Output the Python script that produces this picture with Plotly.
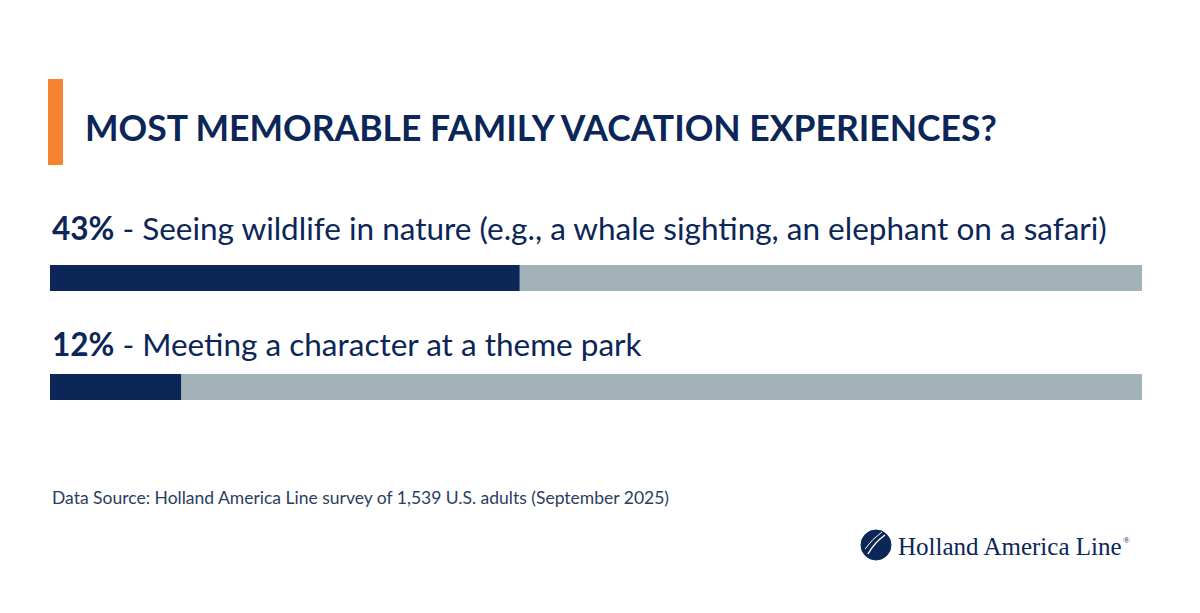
import plotly.graph_objects as go

# ---- data ----
categories = ["Seeing wildlife in nature (e.g., a whale sighting, an elephant on a safari)",
              "Meeting a character at a theme park"]
percent = [43, 12]
total = [100, 100]
title_text = "MOST MEMORABLE FAMILY VACATION EXPERIENCES?"
source_text = "Data Source: Holland America Line survey of 1,539 U.S. adults (September 2025)"
brand_text = "Holland America Line"

NAVY = "#0b2657"
GREY = "#a3b1b8"
ORANGE = "#f6832f"
W, H = 1200, 613

fig = go.Figure()
fig.add_trace(go.Bar(y=categories, x=total, orientation="h", marker=dict(color=GREY, line=dict(width=0)),
                     width=0.24, hoverinfo="skip", showlegend=False))
fig.add_trace(go.Bar(y=categories, x=percent, orientation="h", marker=dict(color=NAVY, line=dict(width=0)),
                     width=0.24, showlegend=False))

# y axis: category 0 at pixel 278, category 1 at pixel 387 (109 px per unit)
top_px, bot_px = 278 - 54.5, 387 + 54.5
fig.update_layout(
    width=W, height=H, barmode="overlay",
    margin=dict(l=0, r=0, t=0, b=0),
    paper_bgcolor="white", plot_bgcolor="white",
    xaxis=dict(domain=[50 / W, 1142 / W], range=[0, 100], visible=False, fixedrange=True),
    yaxis=dict(domain=[1 - bot_px / H, 1 - top_px / H], range=[1.5, -0.5], visible=False,
               categoryorder="array", categoryarray=categories, fixedrange=True),
    font=dict(family="Lato", color=NAVY),
)

label_shift = [50, 43]
for cat, p, s in zip(categories, percent, label_shift):
    fig.add_annotation(x=0, y=cat, xref="x", yref="y", xanchor="left", yanchor="middle",
                       yshift=s, xshift=0, showarrow=False,
                       text=f"<b>{p}%</b> - {cat}",
                       font=dict(family="Lato", size=31.5, color=NAVY))

# orange accent bar
fig.add_shape(type="rect", xref="paper", yref="paper",
              x0=48 / W, x1=63 / W, y0=1 - 165 / H, y1=1 - 79 / H,
              fillcolor=ORANGE, line=dict(width=0))
# title
fig.add_annotation(x=83 / W, y=1 - 128 / H, xref="paper", yref="paper", xanchor="left", yanchor="middle",
                   showarrow=False, text=f"<b>{title_text}</b>",
                   font=dict(family="Lato", size=35.5, color=NAVY))
# source
fig.add_annotation(x=50 / W, y=1 - 497 / H, xref="paper", yref="paper", xanchor="left", yanchor="middle",
                   showarrow=False, text=source_text,
                   font=dict(family="Lato", size=17.5, color="#2c3d60"))
# logo emblem
cx, cy, r = 876, 545, 15
fig.add_shape(type="circle", xref="paper", yref="paper",
              x0=(cx - r) / W, x1=(cx + r) / W, y0=1 - (cy + r) / H, y1=1 - (cy - r) / H,
              fillcolor=NAVY, line=dict(color=NAVY, width=1))
fig.add_shape(type="path", xref="paper", yref="paper",
              path=f"M {(cx-8)/W},{1-(cy+9)/H} Q {(cx-2)/W},{1-(cy-2)/H} {(cx+9)/W},{1-(cy-10)/H}",
              line=dict(color="white", width=1.5))
fig.add_shape(type="path", xref="paper", yref="paper",
              path=f"M {(cx-11)/W},{1-(cy+4)/H} Q {(cx-4)/W},{1-(cy-6)/H} {(cx+6)/W},{1-(cy-13)/H}",
              line=dict(color="white", width=1))
fig.add_annotation(x=896 / W, y=1 - 546 / H, xref="paper", yref="paper", xanchor="left", yanchor="middle",
                   showarrow=False, text=brand_text,
                   font=dict(family="Liberation Serif", size=25, color=NAVY))
fig.add_annotation(x=1121 / W, y=1 - 540 / H, xref="paper", yref="paper", xanchor="left", yanchor="middle",
                   showarrow=False, text="®",
                   font=dict(family="Liberation Serif", size=9, color=NAVY))

fig.write_html("out.html", config={"displayModeBar": False},
               post_script="document.body.style.margin='0';")
